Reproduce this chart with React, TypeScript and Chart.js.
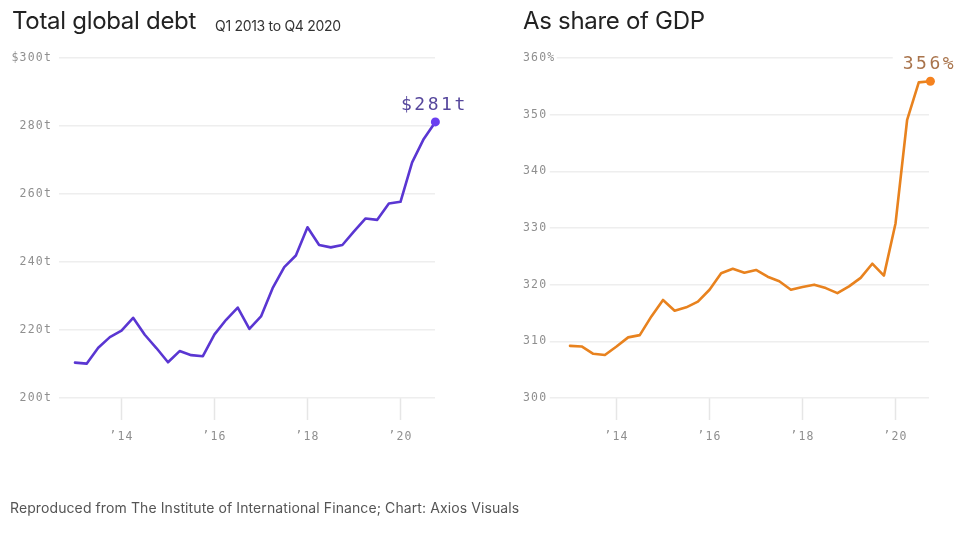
import React, { useEffect, useRef } from 'react';
import { Chart, registerables } from 'chart.js';

Chart.register(...registerables);

// ---- Data -------------------------------------------------------------
const quarters = [
  'Q1 2013', 'Q2 2013', 'Q3 2013', 'Q4 2013',
  'Q1 2014', 'Q2 2014', 'Q3 2014', 'Q4 2014',
  'Q1 2015', 'Q2 2015', 'Q3 2015', 'Q4 2015',
  'Q1 2016', 'Q2 2016', 'Q3 2016', 'Q4 2016',
  'Q1 2017', 'Q2 2017', 'Q3 2017', 'Q4 2017',
  'Q1 2018', 'Q2 2018', 'Q3 2018', 'Q4 2018',
  'Q1 2019', 'Q2 2019', 'Q3 2019', 'Q4 2019',
  'Q1 2020', 'Q2 2020', 'Q3 2020', 'Q4 2020',
];

// decimal-year position of each quarter on the time axis
const quarterYears = [
  2013.0, 2013.25, 2013.5, 2013.75,
  2014.0, 2014.25, 2014.5, 2014.75,
  2015.0, 2015.25, 2015.5, 2015.75,
  2016.0, 2016.25, 2016.5, 2016.75,
  2017.0, 2017.25, 2017.5, 2017.75,
  2018.0, 2018.25, 2018.5, 2018.75,
  2019.0, 2019.25, 2019.5, 2019.75,
  2020.0, 2020.25, 2020.5, 2020.75,
];

// Total global debt, trillions of dollars
const debtTrillions = [
  210.4, 210.1, 214.8, 217.9,
  219.8, 223.6, 218.6, 214.7,
  210.5, 213.8, 212.6, 212.3,
  218.7, 223.0, 226.6, 220.3,
  224.0, 232.3, 238.5, 241.9,
  250.2, 245.0, 244.3, 245.0,
  249.0, 252.8, 252.4, 257.2,
  257.7, 269.3, 276.2, 281.2,
];

// Global debt as share of GDP, percent
const debtShareOfGdp = [
  309.2, 309.1, 307.8, 307.6,
  309.1, 310.7, 311.1, 314.4,
  317.3, 315.4, 316.0, 317.0,
  319.1, 322.0, 322.8, 322.1,
  322.6, 321.4, 320.6, 319.1,
  319.6, 320.0, 319.4, 318.5,
  319.7, 321.2, 323.7, 321.6,
  330.8, 349.1, 355.7, 355.9,
];

const yearTickValues = [2014, 2016, 2018, 2020];
const yearTickLabels = ['’14', '’16', '’18', '’20'];

const debtTickValues = [200, 220, 240, 260, 280, 300];
const debtTickLabels = ['200t', '220t', '240t', '260t', '280t', '$300t'];

const shareTickValues = [300, 310, 320, 330, 340, 350, 360];
const shareTickLabels = ['300', '310', '320', '330', '340', '350', '360%'];

const debtEndLabel = '$281t';
const shareEndLabel = '356%';

// ---- Styling ----------------------------------------------------------
const MONO = "'DejaVu Sans Mono', monospace";
const SANS = "Inter, 'Noto Sans', sans-serif";
const W = 486;
const H = 537;

type PanelCfg = {
  values: number[];
  yMin: number;
  yMax: number;
  yTicks: number[];
  yTickLabels: string[];
  xMin: number;
  xMax: number;
  lineColor: string;
  dotColor: string;
  labelColor: string;
  endLabel: string;
  mirrorY: boolean;
  padding: { left: number; right: number; top: number; bottom: number };
  yAxisWidth: number;
};

const letterSpacingPlugin = {
  id: 'letterSpacing',
  beforeDraw(chart: any) {
    chart.ctx.letterSpacing = '1.2px';
  },
};

const endLabelPlugin = {
  id: 'endLabel',
  afterDatasetsDraw(chart: any, _args: any, opts: any) {
    const meta = chart.getDatasetMeta(0);
    const pt = meta.data[meta.data.length - 1];
    if (!pt) return;
    const ctx = chart.ctx;
    ctx.save();
    ctx.font = `18px ${MONO}`;
    ctx.letterSpacing = '2.5px';
    const text = opts.text as string;
    const w = ctx.measureText(text).width;
    const baseY = pt.y - 12;
    ctx.fillStyle = '#ffffff';
    ctx.fillRect(pt.x - w / 2 - 11, baseY - 17, w + 16, 21);
    ctx.fillStyle = opts.color;
    ctx.textAlign = 'center';
    ctx.textBaseline = 'alphabetic';
    ctx.fillText(text, pt.x - 1, baseY);
    ctx.restore();
  },
};

function Panel({ cfg, left }: { cfg: PanelCfg; left: number }) {
  const ref = useRef<HTMLCanvasElement | null>(null);

  useEffect(() => {
    if (!ref.current) return;
    const last = cfg.values.length - 1;
    const chart = new Chart(ref.current, {
      type: 'line',
      data: {
        labels: quarters,
        datasets: [
          {
            data: cfg.values.map((v, i) => ({ x: quarterYears[i], y: v })),
            borderColor: cfg.lineColor,
            borderWidth: 2.6,
            borderJoinStyle: 'round',
            borderCapStyle: 'round',
            tension: 0,
            fill: false,
            clip: false,
            pointRadius: (c: any) => (c.dataIndex === last ? 4.5 : 0),
            pointBackgroundColor: cfg.dotColor,
            pointBorderWidth: 0,
            pointHoverRadius: 0,
          } as any,
        ],
      },
      options: {
        animation: false,
        responsive: false,
        devicePixelRatio: 1,
        events: [],
        layout: { padding: cfg.padding },
        plugins: {
          legend: { display: false },
          tooltip: { enabled: false },
          title: { display: false },
          endLabel: { text: cfg.endLabel, color: cfg.labelColor },
        } as any,
        scales: {
          x: {
            type: 'linear',
            min: cfg.xMin,
            max: cfg.xMax,
            afterBuildTicks: (s: any) => {
              s.ticks = yearTickValues.map((v) => ({ value: v }));
            },
            afterFit: (s: any) => {
              s.height = 60;
            },
            ticks: {
              autoSkip: false,
              maxRotation: 0,
              padding: 10,
              color: '#8f8f8f',
              font: { family: MONO, size: 11.5 },
              callback: (v: any) => {
                const i = yearTickValues.indexOf(Number(v));
                return i >= 0 ? yearTickLabels[i] : '';
              },
            },
            grid: {
              display: true,
              drawOnChartArea: false,
              drawTicks: true,
              tickLength: 22,
              tickColor: '#e6e6e6',
              tickWidth: 1.5,
            },
            border: { display: false },
          },
          y: {
            type: 'linear',
            min: cfg.yMin,
            max: cfg.yMax,
            afterBuildTicks: (s: any) => {
              s.ticks = cfg.yTicks.map((v) => ({ value: v }));
            },
            afterFit: (s: any) => {
              s.width = cfg.yAxisWidth;
            },
            ticks: {
              autoSkip: false,
              mirror: cfg.mirrorY,
              padding: cfg.mirrorY ? 0 : 7,
              color: '#8f8f8f',
              font: { family: MONO, size: 11.5 },
              showLabelBackdrop: cfg.mirrorY,
              backdropColor: '#ffffff',
              backdropPadding: { left: 2, right: 6, top: 2, bottom: 2 },
              callback: (v: any) => {
                const i = cfg.yTicks.indexOf(Number(v));
                return i >= 0 ? cfg.yTickLabels[i] : '';
              },
            } as any,
            grid: {
              color: '#eeeeee',
              lineWidth: 1.5,
              drawTicks: false,
            },
            border: { display: false },
          },
        },
      },
      plugins: [letterSpacingPlugin, endLabelPlugin],
    });
    return () => chart.destroy();
  }, [cfg]);

  return (
    <canvas
      ref={ref}
      width={W}
      height={H}
      style={{ position: 'absolute', left, top: 0, width: W, height: H }}
    />
  );
}

const leftCfg: PanelCfg = {
  values: debtTrillions,
  yMin: 200,
  yMax: 300,
  yTicks: debtTickValues,
  yTickLabels: debtTickLabels,
  xMin: 2012.656,
  xMax: 2020.742,
  lineColor: '#5a36d2',
  dotColor: '#6a3ff0',
  labelColor: '#56479c',
  endLabel: debtEndLabel,
  mirrorY: false,
  padding: { left: 0, right: W - 435, top: 58, bottom: H - 398 - 60 },
  yAxisWidth: 59,
};

const rightCfg: PanelCfg = {
  values: debtShareOfGdp,
  yMin: 300,
  yMax: 360,
  yTicks: shareTickValues,
  yTickLabels: shareTickLabels,
  xMin: 2011.989,
  xMax: 2020.72,
  lineColor: '#e8821e',
  dotColor: '#f5821f',
  labelColor: '#a9744c',
  endLabel: shareEndLabel,
  mirrorY: true,
  padding: { left: 523 - 486, right: W - (929 - 486), top: 58, bottom: H - 398 - 60 },
  yAxisWidth: 0,
};

export default function App() {
  return (
    <div
      style={{
        position: 'absolute',
        left: 0,
        top: 0,
        width: 972,
        height: 537,
        background: '#ffffff',
        overflow: 'hidden',
        fontFamily: SANS,
      }}
    >
      <Panel cfg={leftCfg} left={0} />
      <Panel cfg={rightCfg} left={486} />
      <div
        style={{
          position: 'absolute',
          left: 12,
          top: 8.6,
          fontSize: 24,
          lineHeight: '24px',
          color: '#222222',
          whiteSpace: 'nowrap',
          letterSpacing: '-0.3px',
        }}
      >
        Total global debt
      </div>
      <div
        style={{
          position: 'absolute',
          left: 215,
          top: 18.6,
          fontSize: 14,
          lineHeight: '14px',
          color: '#333333',
          whiteSpace: 'nowrap',
          letterSpacing: '-0.3px',
        }}
      >
        Q1 2013 to Q4 2020
      </div>
      <div
        style={{
          position: 'absolute',
          left: 523,
          top: 8.6,
          fontSize: 24,
          lineHeight: '24px',
          color: '#222222',
          whiteSpace: 'nowrap',
          letterSpacing: '-0.3px',
        }}
      >
        As share of GDP
      </div>
      <div
        style={{
          position: 'absolute',
          left: 10,
          top: 501.2,
          fontSize: 14,
          lineHeight: '14px',
          color: '#555555',
          whiteSpace: 'nowrap',
          letterSpacing: '0.1px',
        }}
      >
        Reproduced from The Institute of International Finance; Chart: Axios Visuals
      </div>
    </div>
  );
}
